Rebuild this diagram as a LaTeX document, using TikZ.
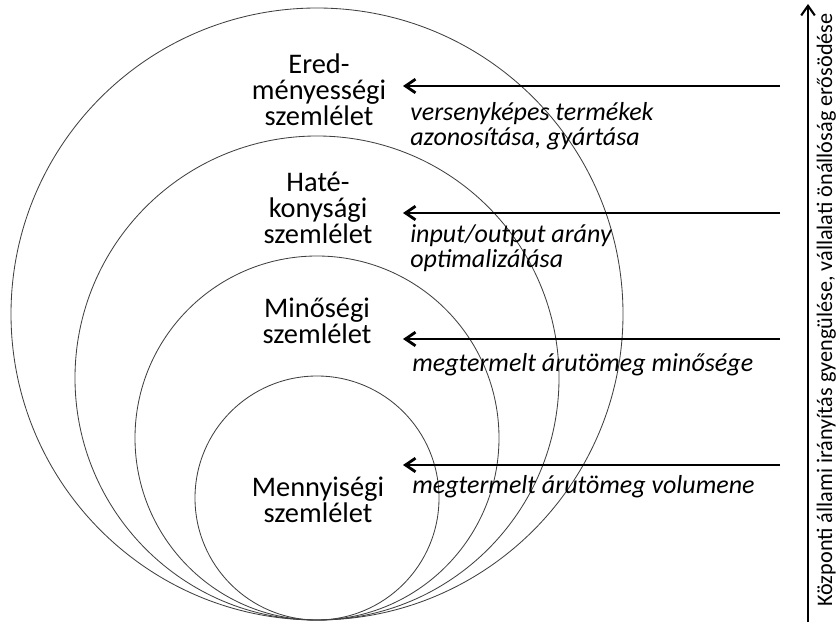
\documentclass[tikz,border=0pt]{standalone}
\usepackage{fontspec}
\setmainfont{Carlito}
\usetikzlibrary{arrows.meta,positioning,calc}

\begin{document}
\begin{tikzpicture}[
    ring/.style={draw=black!75, line width=0.6pt},
    szemlelet/.style={font=\fontsize{20.2}{18.5}\selectfont, align=center, inner sep=0pt},
    leiras/.style={font=\fontsize{18.5}{17.8}\selectfont\itshape, align=left, anchor=west, inner sep=0pt},
    hatas/.style={-{Straight Barb[length=2.5mm, width=3.4mm]}, line width=2pt},
    tengely/.style={-{Straight Barb[length=2.4mm, width=3.4mm]}, line width=1.5pt}
]
    \useasboundingbox (0,0) rectangle (20.925,15.55);

    % Egymasba agyazott korok (kozos also pont)
    \coordinate (also) at (7.925,0.05);
    \foreach \r in {7.65,6.05,4.55,3.05}
        \draw[ring] ($(also)+(0,\r)$) circle (\r);

    % Szemleletek
    \node[szemlelet] (ered) at (7.975,13.3) {Ered-\\ményességi\\szemlélet};
    \node[szemlelet] (hatek) at (7.95,10.35) {Haté-\\konysági\\szemlélet};
    \node[szemlelet] (minos) at (7.925,7.52) {Minőségi\\szemlélet};
    \node[szemlelet] (menny) at (7.95,3.05) {Mennyiségi\\szemlélet};

    % Nyilak vegpontjai
    \coordinate (ered_ki) at (19.5,13.4);
    \coordinate (ered_be) at (10.075,13.4);
    \coordinate (hatek_ki) at (19.5,10.225);
    \coordinate (hatek_be) at (10.075,10.225);
    \coordinate (minos_ki) at (19.5,7.075);
    \coordinate (minos_be) at (10.075,7.075);
    \coordinate (menny_ki) at (19.5,3.925);
    \coordinate (menny_be) at (10.075,3.925);

    \draw[hatas] (ered_ki) -- (ered_be);
    \draw[hatas] (hatek_ki) -- (hatek_be);
    \draw[hatas] (minos_ki) -- (minos_be);
    \draw[hatas] (menny_ki) -- (menny_be);

    % Leirasok
    \node[leiras] (ered_l) at (10.25,12.39) {versenyképes termékek\\azonosítása, gyártása};
    \node[leiras] (hatek_l) at (10.25,9.34) {input/output arány\\optimalizálása};
    \node[leiras] (minos_l) at (10.3,6.425) {megtermelt árutömeg minősége};
    \node[leiras] (menny_l) at (10.3,3.375) {megtermelt árutömeg volumene};

    % Fuggoleges tengely
    \coordinate (tengely_also) at (20.2,0);
    \coordinate (tengely_felso) at (20.2,15.45);
    \draw[tengely] (tengely_also) -- (tengely_felso);
    \node[rotate=90, font=\fontsize{15.8}{15.8}\selectfont, inner sep=0pt] (tengely_txt) at (20.66,7.8)
        {Központi állami irányítás gyengülése, vállalati önállóság erősödése};

\end{tikzpicture}
\end{document}
